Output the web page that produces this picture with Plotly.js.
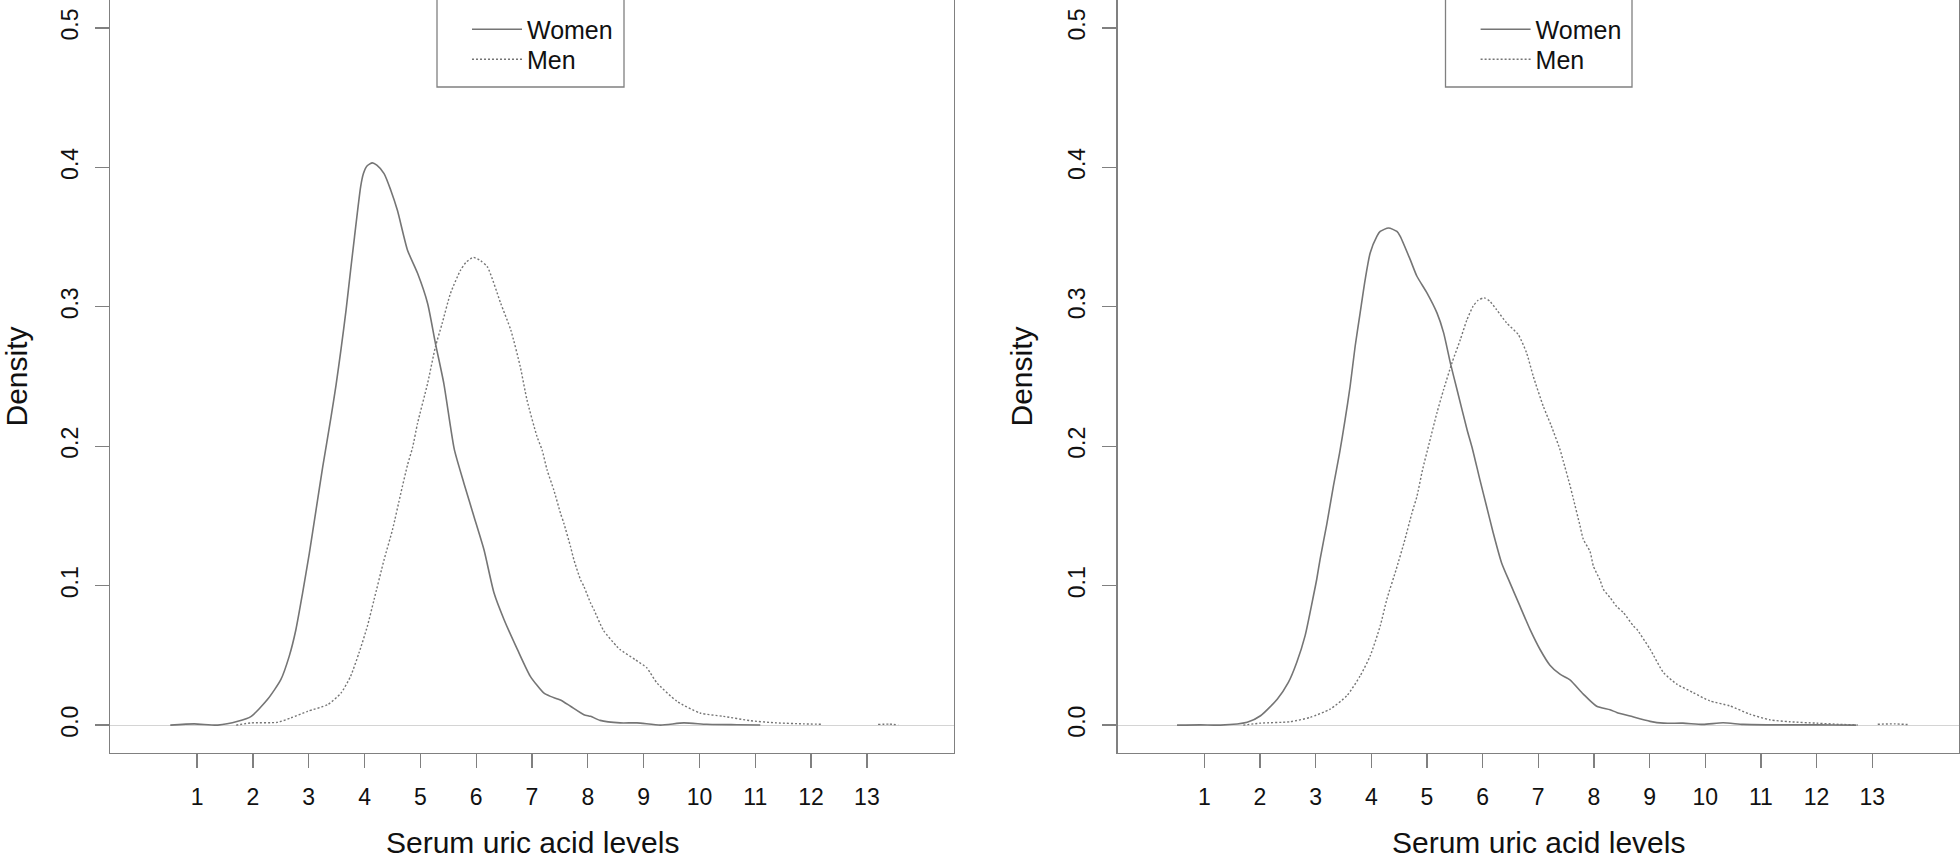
<!DOCTYPE html>
<html>
<head>
<meta charset="utf-8">
<script src="https://cdn.plot.ly/plotly-3.0.1.min.js"></script>
<style>
html,body{margin:0;padding:0;background:#ffffff;}
#chart{width:1960px;height:858px;}
</style>
</head>
<body>
<div id="chart"></div>
<script>
// ---------- data ----------
const seriesNames = ['Women', 'Men'];
const xTitle = 'Serum uric acid levels';
const yTitle = 'Density';
const xTickVals = [1,2,3,4,5,6,7,8,9,10,11,12,13];
const xTickText = ['1','2','3','4','5','6','7','8','9','10','11','12','13'];
const yTickVals = [0, 0.1, 0.2, 0.3, 0.4, 0.5];
const yTickText = ['0.0','0.1','0.2','0.3','0.4','0.5'];

// left panel
const leftWomenX = [0.52,0.95,1.37,1.73,1.97,2.26,2.50,2.65,2.77,2.89,3.01,3.13,3.25,3.40,3.49,3.58,3.67,3.75,3.82,3.93,3.98,4.04,4.14,4.22,4.35,4.47,4.59,4.77,4.95,5.13,5.27,5.42,5.54,5.61,5.78,5.96,6.14,6.32,6.50,6.74,6.97,7.21,7.33,7.51,7.69,7.93,8.05,8.22,8.58,8.88,9.30,9.72,10.13,10.67,11.09];
const leftWomenY = [0,0.0009,0.0000,0.0027,0.0063,0.0183,0.0326,0.0493,0.0684,0.0947,0.1230,0.1540,0.1850,0.2210,0.2440,0.2700,0.2980,0.3260,0.3500,0.3860,0.3955,0.4008,0.4032,0.4015,0.3955,0.3836,0.3690,0.3406,0.3240,0.3024,0.2738,0.2451,0.2140,0.1974,0.1735,0.1496,0.1257,0.0947,0.0756,0.0541,0.0350,0.0231,0.0206,0.0180,0.0135,0.0075,0.0063,0.0034,0.0016,0.0016,0.0000,0.0016,0.0006,0.0003,0.0001];
const leftMenX = [1.70,1.97,2.44,2.68,2.98,3.34,3.58,3.75,3.90,4.05,4.17,4.35,4.50,4.65,4.77,4.86,4.95,5.13,5.27,5.39,5.54,5.72,5.82,5.95,6.08,6.20,6.44,6.62,6.79,6.91,7.09,7.18,7.27,7.39,7.51,7.57,7.69,7.75,7.87,7.93,8.05,8.11,8.28,8.52,8.58,8.85,9.06,9.12,9.24,9.60,10.01,10.43,10.91,11.38,11.86,12.19,null,13.20,13.40,13.56];
const leftMenY = [0,0.0016,0.0020,0.0052,0.0099,0.0147,0.0231,0.0350,0.0517,0.0708,0.0899,0.1186,0.1400,0.1663,0.1866,0.1990,0.2165,0.2451,0.2713,0.2880,0.3096,0.3263,0.3320,0.3354,0.3330,0.3287,0.3024,0.2833,0.2570,0.2332,0.2069,0.1974,0.1830,0.1687,0.1520,0.1448,0.1280,0.1186,0.1042,0.0994,0.0875,0.0827,0.0680,0.0564,0.0541,0.0469,0.0410,0.0374,0.0302,0.0170,0.0087,0.0063,0.0032,0.0016,0.0009,0.0006,null,0.0005,0.0007,0.0002];

// right panel
const rightWomenX = [0.51,0.93,1.29,1.77,2.01,2.31,2.51,2.66,2.81,2.96,3.02,3.08,3.20,3.32,3.43,3.53,3.62,3.71,3.80,3.89,3.98,4.10,4.16,4.31,4.46,4.52,4.70,4.82,5.00,5.18,5.30,5.42,5.54,5.72,5.82,5.95,6.07,6.19,6.34,6.49,6.67,6.85,7.03,7.21,7.39,7.57,7.81,8.05,8.29,8.41,8.65,9.01,9.25,9.60,9.96,10.32,10.68,11.10,11.70,12.30,12.71];
const rightWomenY = [0,0.0002,0,0.0020,0.0067,0.0186,0.0306,0.0449,0.0640,0.0926,0.1046,0.1189,0.1440,0.1715,0.1950,0.2192,0.2430,0.2717,0.2956,0.3195,0.3386,0.3505,0.3540,0.3565,0.3540,0.3505,0.3338,0.3219,0.3100,0.2956,0.2813,0.2598,0.2407,0.2120,0.1977,0.1762,0.1571,0.1380,0.1165,0.1022,0.0855,0.0688,0.0544,0.0430,0.0365,0.0325,0.0222,0.0135,0.0110,0.0091,0.0065,0.0027,0.0014,0.0014,0.0005,0.0017,0.0005,0.0002,0.0002,0.0001,0];
const rightMenX = [1.70,2.01,2.54,2.90,3.26,3.56,3.80,3.98,4.16,4.28,4.45,4.59,4.73,4.82,4.92,5.04,5.18,5.30,5.45,5.60,5.72,5.83,5.92,6.03,6.13,6.25,6.43,6.64,6.79,6.91,7.09,7.23,7.39,7.45,7.57,7.62,7.75,7.81,7.93,7.99,8.11,8.17,8.29,8.41,8.53,8.71,8.77,9.01,9.25,9.49,9.78,10.08,10.44,10.80,11.16,11.52,12.00,12.42,12.74,null,13.10,13.40,13.67];
const rightMenY = [0,0.0014,0.0024,0.0055,0.0115,0.0210,0.0353,0.0496,0.0711,0.0903,0.1120,0.1310,0.1520,0.1640,0.1830,0.2020,0.2240,0.2407,0.2598,0.2765,0.2908,0.3004,0.3047,0.3064,0.3040,0.2980,0.2885,0.2801,0.2670,0.2502,0.2287,0.2150,0.1977,0.1893,0.1720,0.1640,0.1430,0.1332,0.1245,0.1141,0.1040,0.0974,0.0915,0.0850,0.0807,0.0711,0.0688,0.0544,0.0377,0.0294,0.0234,0.0174,0.0138,0.0079,0.0038,0.0024,0.0014,0.0005,0.0001,null,0.0006,0.0009,0.0003];

// ---------- styling ----------
const FONT = 'Liberation Sans, Arial, Helvetica, sans-serif';
const TEXT = '#111111';
const AXIS = '#808080';
const CURVE = '#757575';

function lineTrace(x, y, name, dash, xa, ya, legend) {
  return {
    type: 'scatter', mode: 'lines', x: x, y: y, name: name,
    xaxis: xa, yaxis: ya, legend: legend, connectgaps: false,
    line: {color: CURVE, width: dash === 'solid' ? 1.6 : 1.4, dash: dash, shape: 'spline', smoothing: 0.6},
    hoverinfo: 'skip'
  };
}

const traces = [
  lineTrace(leftWomenX, leftWomenY, seriesNames[0], 'solid', 'x', 'y', 'legend'),
  lineTrace(leftMenX, leftMenY, seriesNames[1], '2px,2px', 'x', 'y', 'legend2'),
  lineTrace(rightWomenX, rightWomenY, seriesNames[0], 'solid', 'x2', 'y2', 'legend3'),
  lineTrace(rightMenX, rightMenY, seriesNames[1], '2px,2px', 'x2', 'y2', 'legend4')
];

const W = 1960, H = 858, B = 105, PH = H - B;
function xAxis(d0, d1, anchor) {
  return {
    domain: [d0 / W, d1 / W], anchor: anchor, range: [-0.56, 14.56],
    showgrid: false, zeroline: false, showline: true, mirror: true,
    linecolor: AXIS, linewidth: 1.3, layer: 'above traces',
    ticks: 'outside', ticklen: 14, tickwidth: 1.3, tickcolor: AXIS,
    tickmode: 'array', tickvals: xTickVals, ticktext: xTickText,
    tickfont: {family: FONT, size: 23, color: TEXT}, ticklabelstandoff: 9,
    automargin: false, fixedrange: true
  };
}
function yAxis(anchor) {
  return {
    domain: [0, 1], anchor: anchor, range: [-0.02, 0.52],
    showgrid: false, showline: true, mirror: true,
    zeroline: true, zerolinecolor: '#d4d4d4', zerolinewidth: 1.2,
    linecolor: AXIS, linewidth: 1.3, layer: 'above traces',
    ticks: 'outside', ticklen: 14, tickwidth: 1.3, tickcolor: AXIS,
    tickmode: 'array', tickvals: yTickVals, ticktext: yTickText, tickangle: -90,
    tickfont: {family: FONT, size: 23, color: TEXT}, ticklabelstandoff: 8,
    title: {text: yTitle, font: {family: FONT, size: 30, color: TEXT}, standoff: 22},
    automargin: false, fixedrange: true
  };
}
function legendBox(x0, x1) {
  return {type: 'rect', xref: 'paper', yref: 'paper', x0: x0 / W, x1: x1 / W,
          y0: (PH - 87) / PH, y1: 1.002, line: {color: AXIS, width: 1.3}, fillcolor: 'rgba(0,0,0,0)'};
}
function legendAt(px, topPx) {
  return {x: px / W, y: (PH - topPx) / PH, xanchor: 'left', yanchor: 'top',
          bgcolor: 'rgba(0,0,0,0)', borderwidth: 0, itemwidth: 50,
          font: {family: FONT, size: 25, color: TEXT}, tracegroupgap: 0};
}
function xTitleAnn(cx) {
  return {text: xTitle, xref: 'paper', yref: 'paper', x: cx / W, y: (PH - 843) / PH,
          xanchor: 'center', yanchor: 'middle', showarrow: false,
          font: {family: FONT, size: 30, color: TEXT}};
}

const layout = {
  width: W, height: H,
  margin: {l: 0, r: 0, t: 0, b: B, pad: 0},
  paper_bgcolor: '#ffffff', plot_bgcolor: '#ffffff',
  showlegend: true,
  xaxis: xAxis(110, 954, 'y'),
  yaxis: yAxis('x'),
  xaxis2: xAxis(1117.5, 1959, 'y2'),
  yaxis2: yAxis('x2'),
  legend: legendAt(467, 6.5),
  legend2: legendAt(467, 36.5),
  legend3: legendAt(1475.6, 6.5),
  legend4: legendAt(1475.6, 36.5),
  shapes: [legendBox(437, 624), legendBox(1445.5, 1632)],
  annotations: [xTitleAnn(532), xTitleAnn(1538)]
};

Plotly.newPlot('chart', traces, layout, {displayModeBar: false, staticPlot: true});
</script>
</body>
</html>
